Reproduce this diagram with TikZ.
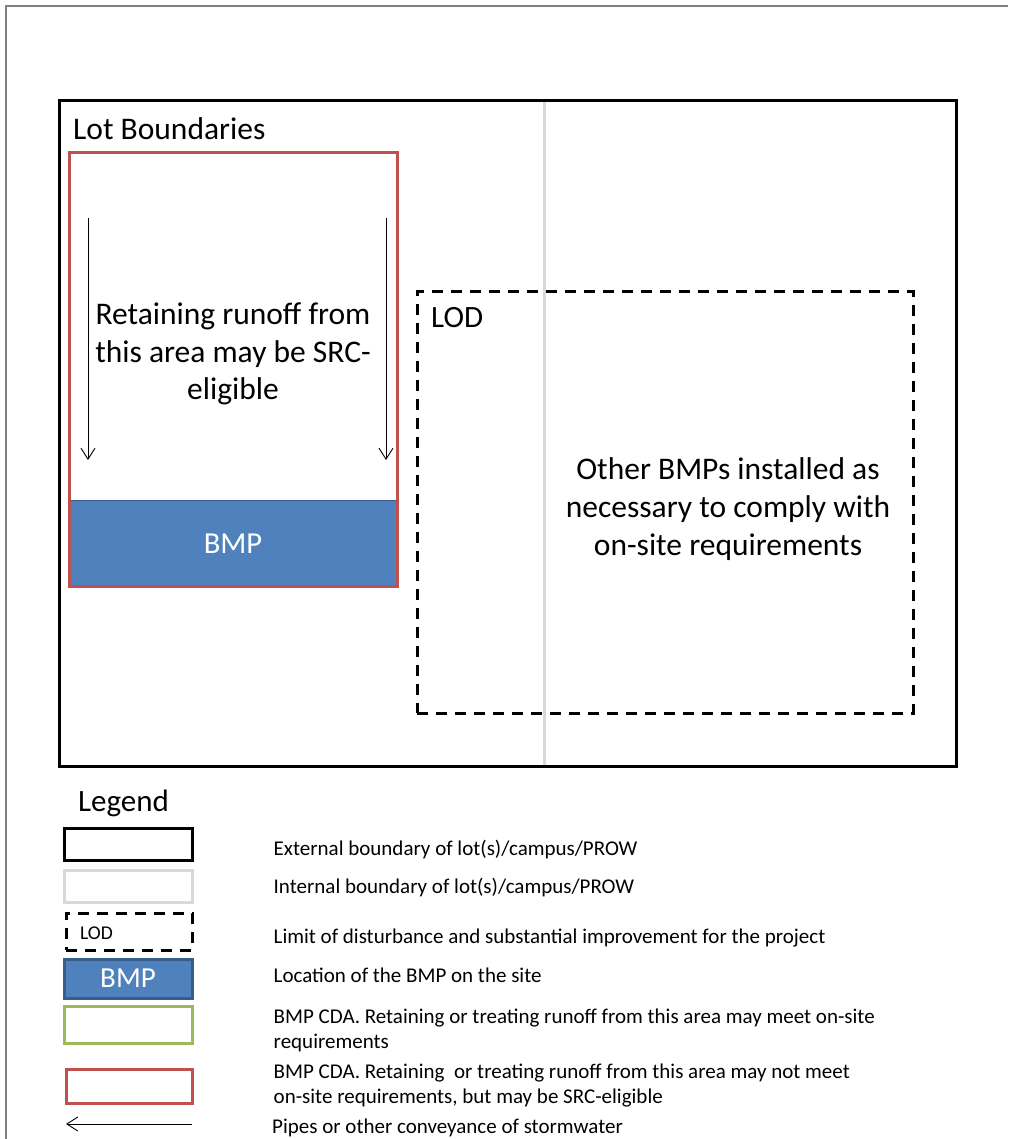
\documentclass[tikz,border=0pt]{standalone}
\usepackage{fontspec}
\setmainfont{Carlito}
\usetikzlibrary{arrows.meta,positioning}
\definecolor{cdared}{HTML}{C0504D}
\definecolor{cdagreen}{HTML}{9BBB59}
\definecolor{bmpblue}{HTML}{4F81BD}
\definecolor{bmpedge}{HTML}{385D8A}
\definecolor{intgray}{HTML}{D9D9D9}

\begin{document}
\begin{tikzpicture}[x=1pt, y=-1pt, every node/.style={font=\fontsize{31.5}{37.5}\selectfont}]
\tikzstyle{outer}=[draw, line width=3pt, inner sep=0pt]
\tikzstyle{inner}=[draw=intgray, line width=3pt]
\tikzstyle{lod}=[draw, line width=3pt, dash pattern=on 11pt off 8pt, inner sep=0pt]
\tikzstyle{cda}=[draw=cdared, line width=3pt, inner sep=0pt]
\tikzstyle{bmp}=[fill=bmpblue, text=white, inner sep=0pt]
\tikzstyle{pipe}=[-{Straight Barb[length=11pt,width=14pt]}, line width=0.9pt]
\tikzstyle{lgbox}=[line width=3pt, minimum width=128pt, inner sep=0pt]
\tikzstyle{lgtext}=[font=\fontsize{21}{25}\selectfont, align=left, inner sep=0pt, anchor=west]
\useasboundingbox (0,0) rectangle (1008,1139);
\draw[gray, line width=1.2pt] (6,1139) -- (6,6) -- (1008,6);

% site plan
\coordinate (int top) at (544,101);
\coordinate (int bot) at (544,766);
\draw[inner] (int top) -- (int bot);
\node[outer, minimum width=897pt, minimum height=665pt] (lot) at (507.5,433.5) {};
\node[anchor=west, inner sep=0pt] (lotlbl) at (73,129) {Lot Boundaries};
\node[bmp, minimum width=328pt, minimum height=85pt, font=\fontsize{30.5}{36}\selectfont] (bmp) at (233,543.5) {BMP};
\draw[bmpedge, line width=1pt] (bmp.north west) -- (bmp.north east);
\node[cda, minimum width=328pt, minimum height=433pt] (cda) at (233,369.5) {};
\node[align=center] (retain) at (233,354) {Retaining runoff from\\this area may be SRC-\\eligible};
\coordinate (pl top) at (88,218);
\coordinate (pl bot) at (88,460);
\coordinate (pr top) at (386,218);
\coordinate (pr bot) at (386,460);
\draw[pipe] (pl top) -- (pl bot);
\draw[pipe] (pr top) -- (pr bot);
\node[lod, minimum width=496pt, minimum height=421pt] (lodbox) at (665,502.5) {};
\node[anchor=west, inner sep=0pt, font=\fontsize{31}{36}\selectfont] (lodlbl) at (431,318) {LOD};
\node[align=center, font=\fontsize{31.5}{38}\selectfont] (other) at (728,509) {Other BMPs installed as\\necessary to comply with\\on-site requirements};

% legend
\node[font=\fontsize{31}{36}\selectfont] (legend) at (123.5,803) {Legend};
\node[lgbox, draw, minimum height=32pt] (lg1) at (128,844) {};
\node[lgbox, draw=intgray, minimum height=32pt] (lg2) at (128,886) {};
\node[lgbox, lod, minimum width=126pt, minimum height=37pt] (lg3) at (129,931.5) {};
\node[anchor=west, inner sep=0pt, font=\fontsize{19.5}{22}\selectfont] (lg3lbl) at (80,933) {LOD};
\node[lgbox, fill=bmpblue, draw=bmpedge, text=white, minimum height=39pt, font=\fontsize{29}{32}\selectfont] (lg4) at (128,978.5) {BMP};
\node[lgbox, draw=cdagreen, minimum height=37pt] (lg5) at (128,1024.5) {};
\node[lgbox, draw=cdared, minimum width=126pt, minimum height=34pt] (lg6) at (129,1086) {};
\coordinate (lp start) at (192,1124);
\coordinate (lp end) at (66,1124);
\draw[pipe] (lp start) -- (lp end);
\node[lgtext, right=80pt of lg1, yshift=-6pt] (t1) {External boundary of lot(s)/campus/PROW};
\node[lgtext, right=80pt of lg2, yshift=-2pt] (t2) {Internal boundary of lot(s)/campus/PROW};
\node[lgtext, right=80pt of lg3, yshift=-6.5pt] (t3) {Limit of disturbance and substantial improvement for the project};
\node[lgtext, right=80pt of lg4, yshift=3pt] (t4) {Location of the BMP on the site};
\node[lgtext, right=80pt of lg5, yshift=-6pt] (t5) {BMP CDA. Retaining or treating runoff from this area may meet on-site\\requirements};
\node[lgtext, right=80pt of lg6, yshift=0.5pt] (t6) {BMP CDA. Retaining\ \ or treating runoff from this area may not meet\\on-site requirements, but may be SRC-eligible};
\node[lgtext, right=80pt of lp start, yshift=-4pt] (t7) {Pipes or other conveyance of stormwater};
\end{tikzpicture}
\end{document}
